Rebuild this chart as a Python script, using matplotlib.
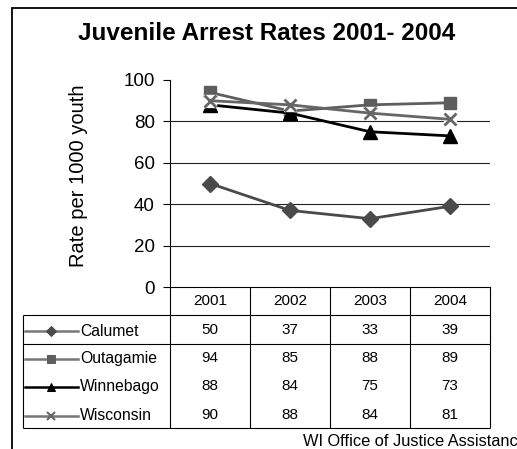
import matplotlib
matplotlib.use("Agg")
import matplotlib.pyplot as plt
import numpy as np

years = ["2001", "2002", "2003", "2004"]
series_names = ["Calumet", "Outagamie", "Winnebago", "Wisconsin"]
calumet = [50, 37, 33, 39]
outagamie = [94, 85, 88, 89]
winnebago = [88, 84, 75, 73]
wisconsin = [90, 88, 84, 81]
yticks = [0, 20, 40, 60, 80, 100]

title = "Juvenile Arrest Rates 2001- 2004"
ylabel = "Rate per 1000 youth"
source = "WI Office of Justice Assistance"

series_vals = [calumet, outagamie, winnebago, wisconsin]
styles = [
    dict(color="#4a4a4a", marker="D", ms=8.5, mew=1),
    dict(color="#5e5e5e", marker="s", ms=8.5, mew=1),
    dict(color="#000000", marker="^", ms=9.5, mew=1),
    dict(color="#666666", marker="x", ms=8.5, mew=2),
]

plt.rcParams['font.family'] = ['Liberation Sans', 'DejaVu Sans']

W, H = 517, 449
fig = plt.figure(figsize=(W / 100, H / 100), dpi=100)


def fx(x):
    return x / W


def fy(y):
    return 1 - y / H


# outer frame (cut off at right and bottom)
fig.add_artist(plt.Rectangle((fx(12), fy(470)), 1.2, fy(8) - fy(470),
                             transform=fig.transFigure, fill=False,
                             edgecolor="black", linewidth=1.3))

# main plot axes
ax_l, ax_r, ax_t, ax_b = 170, 490, 80, 287
ax = fig.add_axes([fx(ax_l), fy(ax_b), (ax_r - ax_l) / W, (ax_b - ax_t) / H])
ax.set_xlim(0, len(years))
ax.set_ylim(yticks[0], yticks[-1])
x = np.arange(len(years)) + 0.5
ax.hlines(yticks[1:-1], 0, len(years), color="#222222", linewidth=0.8, zorder=1)

for name, vals, st in zip(series_names, series_vals, styles):
    if st["marker"] == "x":
        ax.plot(x, vals, linestyle="none", marker="s", ms=9, color="white",
                mec="white", zorder=4, clip_on=False)
    ax.plot(x, vals, color=st["color"], linewidth=2, marker=st["marker"],
            ms=st["ms"], mew=st["mew"], mfc=st["color"], mec=st["color"],
            zorder=5 if st["marker"] == "x" else 3, clip_on=False)

ax.set_yticks(yticks)
ax.set_yticklabels([str(t) for t in yticks], fontsize=13.5)
ax.set_xticks([])
ax.tick_params(axis="y", length=5, width=0.8, pad=6, direction="out")
for s in ["top", "right"]:
    ax.spines[s].set_visible(False)
ax.spines["left"].set_linewidth(0.8)
ax.spines["bottom"].set_linewidth(0.8)

# title and y label
fig.text(fx(267), fy(33), title, ha="center", va="center", fontsize=17.5,
         fontweight="bold")
fig.text(fx(79), fy(176), ylabel, ha="center", va="center", rotation=90,
         fontsize=14.5)

# data table
tl, tr, tt, tb = 23, 490, 287, 428
hdr_b, row1_b = 315, 344
axt = fig.add_axes([fx(tl), fy(tb), (tr - tl) / W, (tb - tt) / H])
x0 = (tl - ax_l) / 80.0
axt.set_xlim(x0, len(years))
axt.set_ylim(tb, tt)
axt.axis("off")
lw = 0.8
kw = dict(color="black", linewidth=lw, clip_on=False)
axt.vlines(np.arange(len(years) + 1), tt, tb, **kw)
axt.vlines([x0], hdr_b, tb, **kw)
axt.hlines([hdr_b, row1_b, tb], x0, len(years), **kw)

fs = 11
hdr_y = 301
for xi, yr in zip(x, years):
    axt.text(xi, hdr_y, yr, ha="center", va="center", fontsize=fs)

row_y = [330, 358, 386, 415]
for ry, name, vals, st in zip(row_y, series_names, series_vals, styles):
    for xi, v in zip(x, vals):
        axt.text(xi, ry, str(v), ha="center", va="center", fontsize=fs)
    lx0, lx1, lxm = (25 - ax_l) / 80, (78 - ax_l) / 80, (51 - ax_l) / 80
    lc = st["color"] if st["color"] == "#000000" else "#777777"
    axt.plot([lx0, lx1], [ry + 1, ry + 1], color=lc, linewidth=1.8, clip_on=False)
    axt.plot([lxm], [ry + 1], marker=st["marker"], ms=st["ms"] * 0.62,
             color=st["color"], mew=st["mew"] * 0.75, linestyle="none",
             clip_on=False)
    axt.text((80 - ax_l) / 80, ry + 1, name, ha="left", va="center", fontsize=11.3)

fig.text(fx(303), fy(442), source, ha="left", va="center", fontsize=11.8)

fig.savefig("out.png", dpi=100)
